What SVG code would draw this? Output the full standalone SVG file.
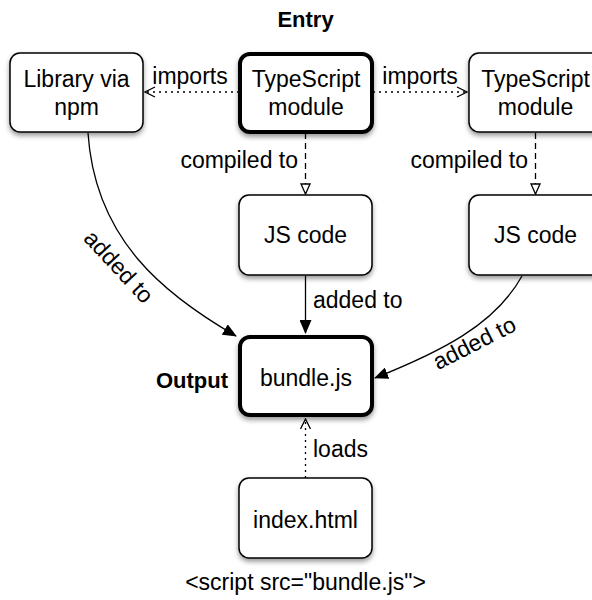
<svg xmlns="http://www.w3.org/2000/svg" width="592" height="600" viewBox="0 0 592 600">
<style>
text{font-family:"Liberation Sans",Arial,Helvetica,sans-serif;font-size:23px;fill:#000}
.b{font-weight:bold;font-size:22px}
.box{fill:#fff;stroke:#000;stroke-width:1.5;filter:url(#sh)}
.thick{stroke-width:4}
.c{fill:none;stroke:#000;stroke-width:1.3}
.dot{stroke-dasharray:2 4}
.dash{stroke-dasharray:6 4}
</style>
<defs>
<filter id="sh" x="-20%" y="-20%" width="140%" height="150%">
<feDropShadow dx="0" dy="3" stdDeviation="2.5" flood-color="#000" flood-opacity="0.4"/>
</filter>
<marker id="open" viewBox="0 0 12 12" refX="11" refY="6" markerWidth="12" markerHeight="12" markerUnits="userSpaceOnUse" orient="auto">
<path d="M1 1 L11 6 L1 11" fill="none" stroke="#000" stroke-width="1.3"/>
</marker>
<marker id="tri" viewBox="0 0 12 12" refX="11" refY="6" markerWidth="12" markerHeight="12" markerUnits="userSpaceOnUse" orient="auto">
<path d="M1 1.5 L11 6 L1 10.5 Z" fill="#fff" stroke="#000" stroke-width="1.3"/>
</marker>
<marker id="fill" viewBox="0 0 14 12" refX="13" refY="6" markerWidth="14" markerHeight="12" markerUnits="userSpaceOnUse" orient="auto">
<path d="M0 0 L14 6 L0 12 Z" fill="#000"/>
</marker>
</defs>

<g id="connectors">
<line class="c dot" x1="239" y1="92" x2="145" y2="92" marker-end="url(#open)"/>
<line class="c dot" x1="373" y1="92" x2="467" y2="92" marker-end="url(#open)"/>
<line class="c dash" x1="305.5" y1="133" x2="305.5" y2="194" marker-end="url(#tri)"/>
<line class="c dash" x1="535.5" y1="133" x2="535.5" y2="194" marker-end="url(#tri)"/>
<line class="c" x1="305.5" y1="276" x2="305.5" y2="333" marker-end="url(#fill)"/>
<path class="c" d="M88 133 C 95 240, 165 295, 236 336" marker-end="url(#fill)"/>
<path class="c" d="M522 276 C 495 325, 440 352, 375 378" marker-end="url(#fill)"/>
<line class="c dot" x1="305.5" y1="478" x2="305.5" y2="419" marker-end="url(#open)"/>
<text x="190" y="84" text-anchor="middle">imports</text>
<text x="420" y="84" text-anchor="middle">imports</text>
<text x="298" y="168" text-anchor="end">compiled to</text>
<text x="528" y="168" text-anchor="end">compiled to</text>
<text x="313" y="308">added to</text>
<text x="313" y="457">loads</text>
<text transform="translate(113,272) rotate(47)" text-anchor="middle">added to</text>
<text transform="translate(478,350) rotate(-27)" text-anchor="middle">added to</text>
</g>

<g id="library">
<rect class="box" x="10" y="53" width="133" height="79" rx="10"/>
<text x="76.5" y="87" text-anchor="middle">Library via</text>
<text x="76.5" y="115" text-anchor="middle">npm</text>
</g>
<g id="entry">
<text class="b" x="305.5" y="27" text-anchor="middle">Entry</text>
<rect class="box thick" x="240" y="54" width="132" height="78" rx="10"/>
<text x="306" y="87" text-anchor="middle">TypeScript</text>
<text x="306" y="115" text-anchor="middle">module</text>
</g>
<g id="ts2">
<rect class="box" x="469" y="53" width="133" height="79" rx="10"/>
<text x="535.5" y="87" text-anchor="middle">TypeScript</text>
<text x="535.5" y="115" text-anchor="middle">module</text>
</g>
<g id="js1">
<rect class="box" x="239" y="195" width="133" height="80" rx="10"/>
<text x="305.5" y="243" text-anchor="middle">JS code</text>
</g>
<g id="js2">
<rect class="box" x="469" y="195" width="133" height="80" rx="10"/>
<text x="535.5" y="243" text-anchor="middle">JS code</text>
</g>
<g id="bundle">
<text class="b" x="228" y="388" text-anchor="end">Output</text>
<rect class="box thick" x="240" y="337" width="132" height="78" rx="10"/>
<text x="306" y="386" text-anchor="middle">bundle.js</text>
</g>
<g id="index">
<rect class="box" x="239" y="478" width="133" height="80" rx="10"/>
<text x="305.5" y="528" text-anchor="middle">index.html</text>
<text x="305.5" y="590" text-anchor="middle">&lt;script src="bundle.js"&gt;</text>
</g>
</svg>
